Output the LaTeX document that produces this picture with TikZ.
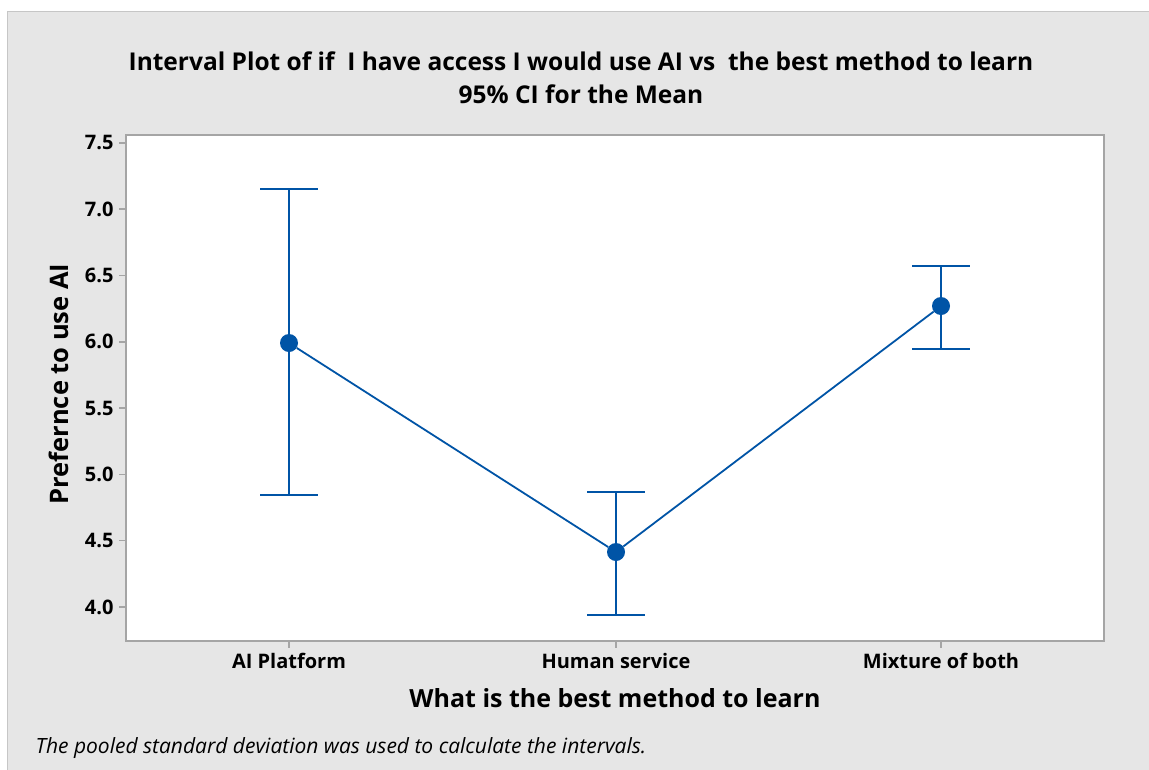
\documentclass[tikz,border=0pt]{standalone}
\usepackage{fontspec}
\setmainfont{Open Sans}
\definecolor{panelgray}{RGB}{230,230,230}
\definecolor{ciblue}{RGB}{0,84,166}
\definecolor{axisgray}{RGB}{165,165,165}
\tikzset{
  ci/.style={ciblue, line width=1.8pt},
  meanpt/.style={circle, fill=ciblue, inner sep=0pt, minimum size=18pt},
  axisline/.style={axisgray, line width=1.5pt},
  ticklbl/.style={font=\bfseries\fontsize{20}{24}\selectfont},
  titlefont/.style={font=\bfseries\fontsize{24.5}{33}\selectfont, align=center}
}
\begin{document}
\begin{tikzpicture}[x=1pt,y=-1pt]

	\useasboundingbox (0,0) rectangle (1149,769);
	\fill[white] (0,0) rectangle (1149,769);
	\draw[fill=panelgray, draw=gray!45, line width=1pt] (7,11) rectangle (1160,780);

	% title
	\node[titlefont] (title) at (581,78) {Interval Plot of if\ \ I have access I would use AI vs\ \ the best method to learn\\95\% CI for the Mean};

	% plot area
	\draw[axisline, fill=white] (126,135) rectangle (1104,641);

	% y axis
	\foreach \v in {4.0,4.5,5.0,5.5,6.0,6.5,7.0,7.5}
	{
		\draw[axisline] (119,{607-(\v-4)*132.6}) -- (126,{607-(\v-4)*132.6});
		\node[ticklbl, anchor=east] at (117,{607-(\v-4)*132.6}) {\v};
	}
	\node[font=\bfseries\fontsize{25.5}{30}\selectfont, rotate=90] (ylabel) at (59,384) {Prefernce to use AI};

	% x axis
	\draw[axisline] (289,641) -- (289,648);
	\draw[axisline] (616,641) -- (616,648);
	\draw[axisline] (941,641) -- (941,648);
	\node[ticklbl] (lblai) at (289,661) {AI Platform};
	\node[ticklbl] (lblhs) at (616,661) {Human service};
	\node[ticklbl] (lblmix) at (941,661) {Mixture of both};
	\node[font=\bfseries\fontsize{25}{30}\selectfont] (xlabel) at (615,698) {What is the best method to learn};

	% means
	\node[meanpt] (ai) at (289,343) {};
	\node[meanpt] (hs) at (616,552) {};
	\node[meanpt] (mix) at (941,306) {};

	% interval ends
	\coordinate (aitop) at (289,189);
	\coordinate (ailow) at (289,495);
	\coordinate (hstop) at (616,492);
	\coordinate (hslow) at (616,615);
	\coordinate (mixtop) at (941,266);
	\coordinate (mixlow) at (941,349);

	% intervals
	\draw[ci] (aitop) -- (ai);
	\draw[ci] (ai) -- (ailow);
	\draw[ci] ([xshift=-29pt]aitop) -- ([xshift=29pt]aitop);
	\draw[ci] ([xshift=-29pt]ailow) -- ([xshift=29pt]ailow);

	\draw[ci] (hstop) -- (hs);
	\draw[ci] (hs) -- (hslow);
	\draw[ci] ([xshift=-29pt]hstop) -- ([xshift=29pt]hstop);
	\draw[ci] ([xshift=-29pt]hslow) -- ([xshift=29pt]hslow);

	\draw[ci] (mixtop) -- (mix);
	\draw[ci] (mix) -- (mixlow);
	\draw[ci] ([xshift=-29pt]mixtop) -- ([xshift=29pt]mixtop);
	\draw[ci] ([xshift=-29pt]mixlow) -- ([xshift=29pt]mixlow);

	% connect means
	\draw[ci] (ai) -- (hs);
	\draw[ci] (hs) -- (mix);

	% footnote
	\node[font=\itshape\fontsize{21}{25}\selectfont, anchor=west] (note) at (32,748) {The pooled standard deviation was used to calculate the intervals.};

\end{tikzpicture}
\end{document}
